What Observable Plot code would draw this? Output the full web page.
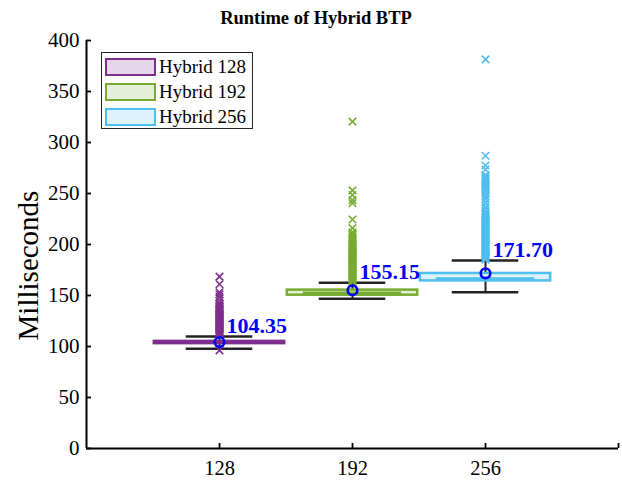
<!DOCTYPE html>
<html><head><meta charset="utf-8">
<script src="https://cdn.jsdelivr.net/npm/d3@7"></script>
<script src="https://cdn.jsdelivr.net/npm/@observablehq/plot@0.6"></script>
<style>
body{margin:0;background:#fff;}
#wrap{position:relative;width:622px;height:481px;font-family:"Liberation Serif","Times New Roman",serif;}
#title{position:absolute;top:8px;left:0;width:632px;text-align:center;font-weight:bold;font-size:18.5px;color:#000;}
#legend{position:absolute;left:101px;top:52px;width:152px;height:77px;border:1.3px solid #262626;background:#fff;box-sizing:border-box;}
.row{position:absolute;left:3px;height:25px;display:flex;align-items:center;font-size:19px;color:#000;}
.sw{width:47px;height:14px;margin-right:3px;box-sizing:content-box;}
</style></head>
<body><div id="wrap"><div id="title"></div><div id="legend"></div></div>
<script>
const titleText = "Runtime of Hybrid BTP";
const yLabel = "Milliseconds";
const groups = ["Hybrid 128","Hybrid 192","Hybrid 256"];
const xLabels = ["128","192","256"];
const positions = [1,2,3];
const yTicks = [0,50,100,150,200,250,300,350,400];
const q1 = [102.8,150.3,164.3];
const median = [104.0,152.8,166.6];
const q3 = [105.0,155.3,171.6];
const whiskerLow = [97.8,146.8,153.2];
const whiskerHigh = [109.8,162.4,184.3];
const means = [104.35,155.15,171.70];
const outliers128 = [96.2,168.5,161.0,153.2,151.0,148.4,145.1,142.3,141.5,140.2,139.1,138.3,137.2,136.4,135.5,134.7,133.6,132.4,131.5,130.6,129.8,128.9,128.1,127.2,126.4,125.6,124.7,123.9,123.1,122.2,121.4,120.6,119.7,118.9,118.1,117.2,116.4,115.6,114.7,113.9,113.1,112.3,111.4,110.8];
const outliers192 = [320.5,253.0,248.5,243.5,240.5,224.5,216.0,212.0,210.5,209.0,207.0,205.0,203.5,202.0,200.5,199.2,198.1,197.3,196.2,195.4,194.3,193.5,192.4,191.6,190.5,189.7,188.6,187.8,186.7,185.9,184.8,184.0,182.9,182.1,181.0,180.2,179.1,178.3,177.2,176.4,175.3,174.5,173.4,172.6,171.5,170.7,169.6,168.8,167.7,166.9,165.8,165.0,163.9,163.1];
const outliers256 = [381.5,287.0,277.5,273.5,268.0,266.0,264.5,263.0,261.5,260.0,258.5,257.0,255.5,254.0,252.0,249.5,247.0,244.5,241.0,238.0,236.0,233.0,230.5,229.0,227.6,226.5,225.3,224.4,223.2,222.1,221.2,220.0,218.9,218.0,216.8,215.7,214.8,213.6,212.5,211.6,210.4,209.3,208.4,207.2,206.1,205.2,204.0,202.9,202.0,200.8,199.7,198.8,197.6,196.5,195.6,194.4,193.3,192.4,191.2,190.1,189.2,188.0,186.9,186.0,185.0];
const colors = ["#7E2F8E","#77AC30","#4DBEEE"];
const fills = ["#e6d6ea","#e4efd7","#dbf2fd"];
const meanColor = "#0000ff";
const boxHalf = 0.49, capHalf = 0.25, medHalf = 0.37;

const stats = positions.map((p,i)=>({p, g:groups[i], q1:q1[i], med:median[i], q3:q3[i], lo:whiskerLow[i], hi:whiskerHigh[i], mean:means[i], color:colors[i], fill:fills[i]}));
const outlierSets = [outliers128, outliers192, outliers256];
const outl = outlierSets.flatMap((arr,i)=>arr.map(v=>({p:positions[i], v, color:colors[i]})));

document.getElementById("title").textContent = titleText;
const leg = document.getElementById("legend");
const rowTops = [1,26,51];
groups.forEach((g,i)=>{
  const r = document.createElement("div");
  r.className="row"; r.style.top = rowTops[i]+"px";
  const s = document.createElement("div");
  s.className="sw"; s.style.background=fills[i]; s.style.border="2.5px solid "+colors[i];
  r.appendChild(s);
  const t = document.createElement("span"); t.textContent=g; r.appendChild(t);
  leg.appendChild(r);
});

const chart = Plot.plot({
  width:622, height:481,
  marginLeft:86, marginRight:4, marginTop:40, marginBottom:33,
  style:{fontFamily:"'Liberation Serif','Times New Roman',serif", fontSize:"21px", color:"#000", background:"transparent"},
  x:{type:"linear", domain:[0,4]},
  y:{domain:[0,400]},
  marks:[
    Plot.axisY({ticks:yTicks, tickSize:-5, tickPadding:12, strokeWidth:1.8, label:null, fontSize:21}),
    Plot.axisX({ticks:[1,2,3,4], tickFormat:d=>xLabels[d-1] ?? "", tickSize:-5, tickPadding:17, strokeWidth:1.8, label:null, fontSize:20.5}),
    Plot.ruleX([0],{stroke:"#000", strokeWidth:2}),
    Plot.ruleY([0],{stroke:"#000", strokeWidth:2}),
    Plot.text([yLabel],{frameAnchor:"left", rotate:-90, textAnchor:"middle", dx:-58, dy:21, fontSize:29}),
    Plot.ruleX(stats,{x:"p", y1:"q3", y2:"hi", stroke:"#222", strokeWidth:2}),
    Plot.ruleX(stats,{x:"p", y1:"lo", y2:"q1", stroke:"#222", strokeWidth:2}),
    Plot.ruleY(stats,{y:"hi", x1:d=>d.p-capHalf, x2:d=>d.p+capHalf, stroke:"#222", strokeWidth:2.5}),
    Plot.ruleY(stats,{y:"lo", x1:d=>d.p-capHalf, x2:d=>d.p+capHalf, stroke:"#222", strokeWidth:2.5}),
    Plot.rect(stats,{x1:d=>d.p-boxHalf, x2:d=>d.p+boxHalf, y1:"q1", y2:"q3", fill:d=>d.fill, stroke:d=>d.color, strokeWidth:2.5}),
    Plot.ruleY(stats,{y:"med", x1:d=>d.p-medHalf, x2:d=>d.p+medHalf, stroke:d=>d.color, strokeWidth:2.5}),
    Plot.dot(outl,{x:"p", y:"v", symbol:"times", r:3.5, stroke:d=>d.color, strokeWidth:1.6}),
    Plot.dot(stats,{x:"p", y:"mean", r:4.8, stroke:meanColor, strokeWidth:2.6, fill:"none"}),
    Plot.text(stats,{x:"p", y:"hi", text:d=>d.mean.toFixed(2), dx:7, dy:-11, textAnchor:"start", fill:meanColor, fontWeight:"bold", fontSize:22})
  ]
});
chart.style.position="absolute"; chart.style.left="0"; chart.style.top="0";
document.getElementById("wrap").insertBefore(chart, document.getElementById("title"));
</script>
</body></html>
